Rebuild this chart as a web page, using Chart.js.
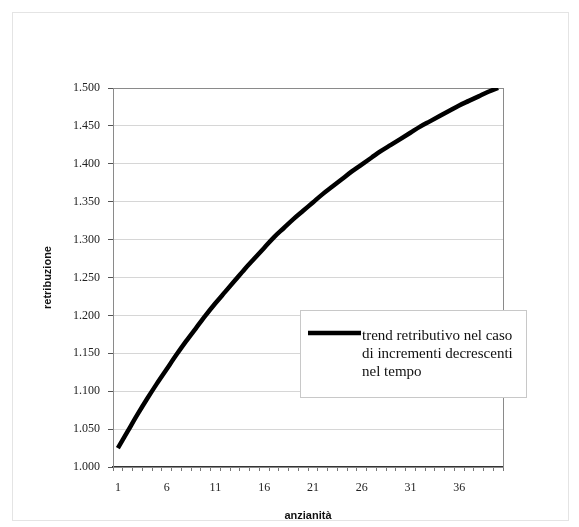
<!DOCTYPE html>
<html lang="it">
  <head>
    <meta charset="UTF-8" />
    <title>Trend retributivo</title>
    <script src="https://cdn.jsdelivr.net/npm/chart.js"></script>
    <style>
      body {
        margin: 0;
        background-color: #ffffff;
      }
      canvas {
        display: block;
      }
    </style>
  </head>
  <body>
    <canvas id="chart" width="579" height="527"></canvas>

    <script>
      // anni di anzianità
      const categories = [
        1, 2, 3, 4, 5, 6, 7, 8, 9, 10, 11, 12, 13, 14, 15, 16, 17, 18, 19, 20,
        21, 22, 23, 24, 25, 26, 27, 28, 29, 30, 31, 32, 33, 34, 35, 36, 37, 38,
        39, 40,
      ];

      // retribuzione
      const retribuzione = [
        1025, 1047, 1069, 1090, 1110, 1129, 1148, 1166, 1183, 1200, 1216, 1231,
        1246, 1261, 1275, 1289, 1303, 1315, 1327, 1338, 1349, 1360, 1370, 1380,
        1390, 1399, 1408, 1417, 1425, 1433, 1441, 1449, 1456, 1463, 1470, 1477,
        1483, 1489, 1495, 1500,
      ];

      const yTickLabels = [
        "1.000", "1.050", "1.100", "1.150", "1.200", "1.250",
        "1.300", "1.350", "1.400", "1.450", "1.500",
      ];

      const legendLines = [
        "trend retributivo nel caso",
        "di incrementi decrescenti",
        "nel tempo",
      ];

      // cornice esterna + bordo dell'area del grafico
      const framePlugin = {
        id: "frame",
        beforeDraw(chart) {
          const ctx = chart.ctx;
          ctx.save();
          ctx.fillStyle = "#ffffff";
          ctx.fillRect(0, 0, chart.width, chart.height);
          ctx.strokeStyle = "#e4e4e4";
          ctx.lineWidth = 1;
          ctx.strokeRect(12.5, 12.5, 556, 508);
          ctx.restore();
        },
        beforeDatasetsDraw(chart) {
          const { ctx, chartArea } = chart;
          ctx.save();
          ctx.strokeStyle = "#8a8a8a";
          ctx.lineWidth = 1;
          ctx.strokeRect(
            chartArea.left + 0.5,
            chartArea.top + 0.5,
            chartArea.right - chartArea.left,
            chartArea.bottom - chartArea.top
          );
          ctx.restore();
        },
      };

      // legenda posizionata dentro l'area del grafico, come nell'originale
      const boxLegendPlugin = {
        id: "boxLegend",
        afterDraw(chart) {
          const ctx = chart.ctx;
          const ds = chart.data.datasets[0];
          const x = 300, y = 310, w = 226, h = 87;
          ctx.save();
          ctx.fillStyle = "#ffffff";
          ctx.fillRect(x, y, w, h);
          ctx.strokeStyle = "#c8c8c8";
          ctx.lineWidth = 1;
          ctx.strokeRect(x + 0.5, y + 0.5, w, h);

          ctx.strokeStyle = ds.borderColor;
          ctx.lineWidth = ds.borderWidth;
          ctx.beginPath();
          ctx.moveTo(308, 333);
          ctx.lineTo(361, 333);
          ctx.stroke();

          ctx.fillStyle = "#111111";
          ctx.font = "15px 'Liberation Serif', 'DejaVu Serif', serif";
          ctx.textBaseline = "middle";
          legendLines.forEach((line, i) => {
            ctx.fillText(line, 362, 336 + i * 18);
          });
          ctx.restore();
        },
      };

      const chart = new Chart(document.getElementById("chart"), {
        type: "line",
        data: {
          labels: categories,
          datasets: [
            {
              label: legendLines.join(" "),
              data: retribuzione,
              borderColor: "#000000",
              borderWidth: 4.5,
              pointRadius: 0,
              cubicInterpolationMode: "monotone",
              fill: false,
            },
          ],
        },
        options: {
          responsive: false,
          animation: false,
          layout: {
            padding: { top: 88, right: 76, left: 0, bottom: 0 },
          },
          plugins: {
            legend: { display: false },
            tooltip: { enabled: false },
          },
          scales: {
            x: {
              type: "category",
              offset: true,
              afterFit(scale) {
                scale.height = 60;
              },
              grid: {
                display: true,
                drawOnChartArea: false,
                drawTicks: true,
                tickLength: 4,
                tickColor: "#777777",
                offset: true,
              },
              border: { color: "#333333", width: 1.5 },
              ticks: {
                autoSkip: false,
                maxRotation: 0,
                padding: 10,
                color: "#222222",
                font: { family: "'Liberation Serif', serif", size: 12 },
                callback: (value, index) =>
                  index % 5 === 0 ? categories[index] : "",
              },
              title: {
                display: true,
                text: "anzianità",
                color: "#111111",
                font: { family: "'Liberation Sans', Arial, sans-serif", size: 11, weight: "bold" },
                padding: { top: 0, bottom: 4 },
              },
            },
            y: {
              min: 1000,
              max: 1500,
              afterFit(scale) {
                scale.width = 113;
              },
              ticks: {
                stepSize: 50,
                padding: 8,
                color: "#222222",
                font: { family: "'Liberation Serif', serif", size: 12 },
                callback: (value, index) => yTickLabels[index],
              },
              grid: {
                color: "#d6d6d6",
                lineWidth: 1,
                tickLength: 5,
                tickColor: "#555555",
              },
              border: { color: "#555555", width: 1 },
              title: {
                display: true,
                text: "retribuzione",
                color: "#111111",
                font: { family: "'Liberation Sans', Arial, sans-serif", size: 11, weight: "bold" },
                padding: { top: 41, bottom: 0 },
              },
            },
          },
        },
        plugins: [framePlugin, boxLegendPlugin],
      });
    </script>
  </body>
</html>
